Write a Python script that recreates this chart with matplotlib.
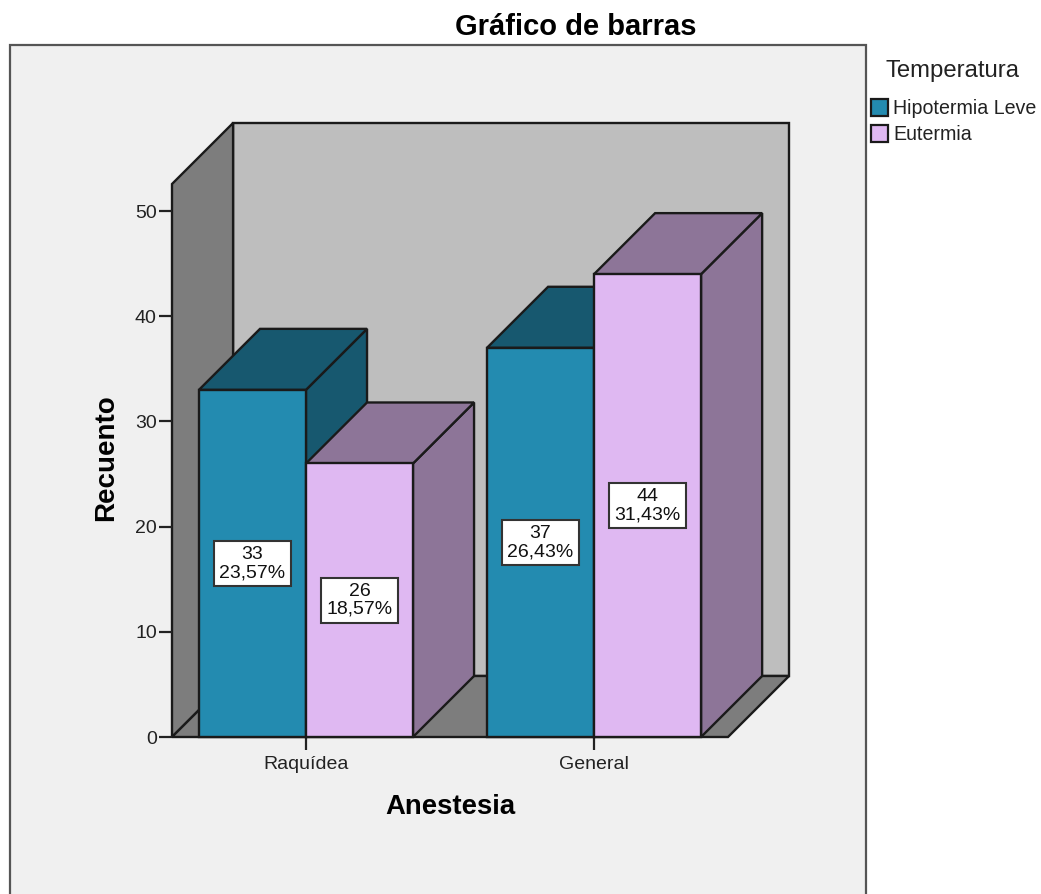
import matplotlib
matplotlib.use('Agg')
import matplotlib.pyplot as plt
from matplotlib.patches import Polygon, Rectangle

plt.rcParams['font.family'] = ['Liberation Sans', 'DejaVu Sans']

# Data
categories = ['Raquídea', 'General']
series_names = ['Hipotermia Leve', 'Eutermia']
counts_hipotermia = [33, 37]
counts_eutermia = [26, 44]
labels_hipotermia = ['33\n23,57%', '37\n26,43%']
labels_eutermia = ['26\n18,57%', '44\n31,43%']
y_ticks = [0, 10, 20, 30, 40, 50]

# Colours: front, top, side
teal = ('#238bb0', '#17586f', '#17586f')
lilac = ('#dfb8f2', '#8d7598', '#8d7598')
line = '#1a1a1a'

W, H = 1041, 894
fig = plt.figure(figsize=(W / 100, H / 100), dpi=100, facecolor='white')

# Grey chart panel behind everything
panel = fig.add_axes([0, 0, 1, 1], facecolor='none')
panel.set_xlim(0, W)
panel.set_ylim(H, 0)
panel.axis('off')
panel.add_patch(Rectangle((10, 45), 856, 860, facecolor='#f0f0f0', edgecolor='#555555', lw=1.6))

# Main axes: its lower left corner is the front corner of the floor
ax = fig.add_axes([172 / W, (H - 737) / H, 556 / W, 553 / H], facecolor='none')
ax.set_xlim(-0.465, 1.465)
ax.set_ylim(0, 52.57)

dx = 0.212   # depth in x units
dy = 5.8     # depth in count units
bar_w = 0.3715
x0, x1 = ax.get_xlim()
y1 = ax.get_ylim()[1]


def poly(pts, color, z):
    ax.add_patch(Polygon(pts, closed=True, facecolor=color, edgecolor=line, lw=1.7,
                         joinstyle='miter', clip_on=False, zorder=z))


# back wall, side wall, floor
poly([(x0 + dx, dy), (x1 + dx, dy), (x1 + dx, y1 + dy), (x0 + dx, y1 + dy)], '#bebebe', 1)
poly([(x0, 0), (x0 + dx, dy), (x0 + dx, y1 + dy), (x0, y1)], '#7d7d7d', 1)
poly([(x0, 0), (x1, 0), (x1 + dx, dy), (x0 + dx, dy)], '#7d7d7d', 1)


def bar3d(x, h, colors, z):
    left, right = x, x + bar_w
    poly([(right, 0), (right + dx, dy), (right + dx, h + dy), (right, h)], colors[2], z)
    poly([(left, h), (right, h), (right + dx, h + dy), (left + dx, h + dy)], colors[1], z)
    poly([(left, 0), (right, 0), (right, h), (left, h)], colors[0], z + 0.5)


def value_box(x, y, text):
    ax.text(x, y, text, ha='center', va='center', fontsize=14, color='#111111',
            linespacing=1.1, zorder=20,
            bbox=dict(boxstyle='square,pad=0.26', facecolor='white', edgecolor='#333333', lw=1.5))


for i in range(len(categories)):
    # draw back to front: left bar first so the right bar's front hides its side
    bar3d(i - bar_w, counts_hipotermia[i], teal, 3)
    bar3d(i, counts_eutermia[i], lilac, 4)
    value_box(i - bar_w / 2, counts_hipotermia[i] / 2, labels_hipotermia[i])
    value_box(i + bar_w / 2, counts_eutermia[i] / 2, labels_eutermia[i])

ax.set_xticks(range(len(categories)))
ax.set_xticklabels(categories, fontsize=14, color='#222222')
ax.set_yticks(y_ticks)
ax.tick_params(axis='y', labelsize=14, length=9.4, width=1.6, pad=1.5, colors='#222222')
ax.tick_params(axis='x', length=9.4, width=1.6, pad=4.5, colors='#222222')
for name in ('top', 'right', 'bottom', 'left'):
    ax.spines[name].set_visible(False)

ax.set_xlabel('Anestesia', fontsize=19.8, fontweight='bold', labelpad=15)
ax.set_ylabel('Recuento', fontsize=20, fontweight='bold', labelpad=0)
ax.yaxis.set_label_coords(-0.095, 0.506)

fig.text(576 / W, 1 - 27 / H, 'Gráfico de barras', fontsize=21, fontweight='bold',
         ha='center', va='center')

# Legend
panel.text(953, 71, 'Temperatura', fontsize=17.2, ha='center', va='center', color='#222222')
legend_colors = [teal[0], lilac[0]]
for name, col, ypos in zip(series_names, legend_colors, [108, 134]):
    panel.add_patch(Rectangle((871, ypos - 9), 17, 17, facecolor=col, edgecolor=line, lw=1.6))
    panel.text(893, ypos, name, fontsize=14.1, va='center', color='#222222')

fig.savefig('out.png', dpi=100)
